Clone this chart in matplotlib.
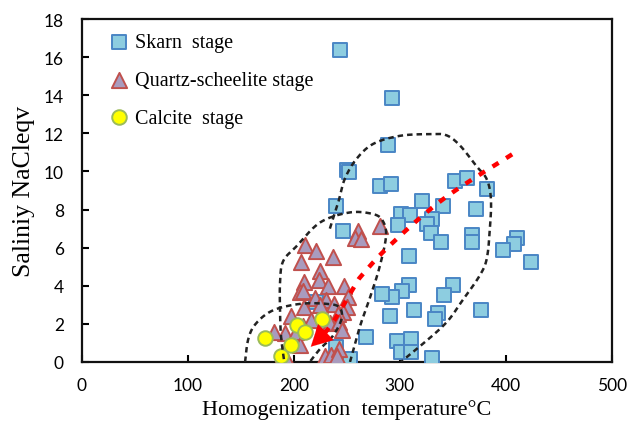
import matplotlib.pyplot as plt
import numpy as np

# homogenization temperature (C) and salinity (wt% NaCl eqv) per stage
skarn_t = [244, 293, 289, 250, 252, 281, 292, 240, 246, 352, 363, 382, 321, 341,
           372, 301, 310, 330, 326, 298, 329, 339, 368, 368, 309, 411, 408, 397,
           424, 309, 302, 293, 283, 350, 342, 291, 313, 336, 333, 377, 297, 311,
           301, 311, 330, 221, 268, 240, 253]
skarn_s = [16.4, 13.85, 11.4, 10.1, 9.95, 9.25, 9.35, 8.17, 6.9, 9.5, 9.65, 9.1,
           8.45, 8.17, 8.03, 7.75, 7.73, 7.5, 7.24, 7.19, 6.75, 6.31, 6.66, 6.28,
           5.58, 6.49, 6.19, 5.88, 5.26, 4.04, 3.71, 3.39, 3.57, 4.04, 3.53, 2.40,
           2.74, 2.57, 2.26, 2.74, 1.08, 1.21, 0.54, 0.54, 0.19, 3.13, 1.29, 0.77,
           0.16]

quartz_t = [281, 261, 258, 263, 211, 221, 237, 207, 225, 224, 210, 232, 247, 206,
            209, 251, 230, 238, 210, 250, 246, 242, 197, 216, 228, 234, 243, 245,
            209, 192, 181, 202, 206, 190, 229, 235, 243, 241, 192, 220, 225]
quartz_s = [7.15, 6.9, 6.5, 6.45, 6.15, 5.85, 5.5, 5.25, 4.8, 4.3, 4.18, 4.0, 4.0,
            3.65, 3.75, 3.42, 3.25, 3.05, 2.87, 2.87, 2.6, 2.52, 2.4, 2.2, 2.08,
            2.05, 2.1, 1.7, 1.9, 1.52, 1.55, 1.59, 0.87, 0.42, 0.33, 0.37, 0.68,
            0.3, 0.33, 3.35, 3.0]

calcite_t = [173, 203, 211, 227, 197, 188]
calcite_s = [1.24, 1.94, 1.56, 2.26, 0.91, 0.33]

# outline of each stage field (dashed black)
skarn_env = [(234, 7.0), (242, 8.4), (248, 9.6), (259, 10.65), (275, 11.45),
             (300, 11.87), (328, 11.96), (344, 11.9), (357, 11.35), (372, 10.3),
             (382, 9.6), (386, 8.55), (385, 7.0), (382, 5.4), (375, 4.5),
             (360, 3.3), (341, 1.9), (301, 0.0)]
quartz_env = [(253, 0.0), (262, 1.8), (272, 3.4), (281, 5.0), (287, 6.6),
              (284, 7.4), (275, 7.76), (253, 7.85), (225, 7.33), (203, 6.1),
              (190, 5.3), (187, 4.2), (187, 2.6), (188, 1.3), (191, 0.0)]
calcite_env = [(154, 0.0), (157, 1.2), (164, 2.0), (180, 2.7), (206, 3.05),
               (231, 3.05), (243, 2.87), (245, 2.26), (237, 1.38), (225, 0.7),
               (215, 0.0)]

# evolution trend (dashed red, ends in an arrow)
trend = [(406, 10.9), (341, 8.55), (291, 6.14), (265, 4.6), (258, 4.04),
         (239, 2.26), (229, 1.5)]
trend_tip = (216, 0.8)


def smooth(pts, n=20):
    # catmull-rom through the outline points
    p = np.array(pts, dtype=float)
    p = np.vstack([p[0], p, p[-1]])
    out = []
    for i in range(1, len(p) - 2):
        p0, p1, p2, p3 = p[i - 1], p[i], p[i + 1], p[i + 2]
        for t in np.linspace(0, 1, n, endpoint=False):
            t2, t3 = t * t, t * t * t
            out.append(0.5 * ((2 * p1) + (-p0 + p2) * t +
                              (2 * p0 - 5 * p1 + 4 * p2 - p3) * t2 +
                              (-p0 + 3 * p1 - 3 * p2 + p3) * t3))
    out.append(p[-2])
    return np.array(out)


plt.rcParams['font.family'] = ['Liberation Serif']

fig = plt.figure(figsize=(6.3, 4.27), dpi=100)
ax = fig.add_axes([0.130, 0.150, 0.841, 0.803])

ax.scatter(skarn_t, skarn_s, marker='s', s=92, facecolor='#8DCDE0',
           edgecolor='#4A86C5', linewidth=1.4, zorder=3, label='Skarn  stage')
ax.scatter(quartz_t, quartz_s, marker='^', s=120, facecolor='#A99BBE',
           edgecolor='#C0504D', linewidth=1.4, zorder=4,
           label='Quartz-scheelite stage')
ax.scatter(calcite_t, calcite_s, marker='o', s=110, facecolor='#FFFF00',
           edgecolor='#9BBB59', linewidth=1.4, zorder=5, label='Calcite  stage')

for env in (skarn_env, quartz_env, calcite_env):
    c = smooth(env)
    ax.plot(c[:, 0], c[:, 1], color='#222222', lw=1.8, ls=(0, (2.2, 1.6)),
            zorder=6)

c = smooth(trend)
ax.plot(c[:, 0], c[:, 1], color='#FF0000', lw=3.2, ls=(0, (1.6, 2.0)), zorder=6)
ax.annotate('', xy=trend_tip, xytext=tuple(c[-1]),
            arrowprops=dict(arrowstyle='-|>,head_length=1.5,head_width=0.8',
                            color='#FF0000', lw=0.1, shrinkA=0, shrinkB=0),
            zorder=7)

ax.set_xlim(0, 500)
ax.set_ylim(0, 18)
ax.set_xticks(np.arange(0, 501, 100))
ax.set_yticks(np.arange(0, 19, 2))
ax.tick_params(direction='in', length=5, width=1.5, top=False, right=False)
ax.tick_params(axis='x', pad=11)
ax.tick_params(axis='y', pad=13)
for lab in ax.get_xticklabels() + ax.get_yticklabels():
    lab.set_family('Lato')
    lab.set_fontsize(12.5)
for sp in ax.spines.values():
    sp.set_linewidth(1.6)
    sp.set_color('#111111')

ax.set_xlabel('Homogenization  temperature°C', fontsize=16, labelpad=4)
ax.set_ylabel('Saliniy NaCleqv', fontsize=18.5, labelpad=6)

ax.legend(loc='upper left', frameon=False, fontsize=14.5, handletextpad=0.3,
          labelspacing=0.92, borderaxespad=0.3, scatterpoints=1,
          handlelength=1.0, bbox_to_anchor=(0.025, 1.0))

fig.savefig('out.png', dpi=100)
